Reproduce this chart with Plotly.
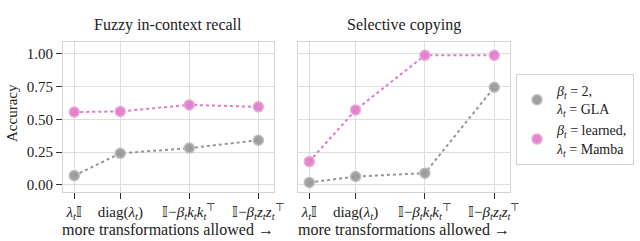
import plotly.graph_objects as go
from plotly.subplots import make_subplots

# Data
x_pos = [0, 2, 5, 8]
tick_labels = [
    "<i>λ<sub>t</sub></i>𝕀",
    "diag(<i>λ<sub>t</sub></i>)",
    "𝕀−<i>β<sub>t</sub>k<sub>t</sub>k<sub>t</sub></i><sup>⊤</sup>",
    "𝕀−<i>β<sub>t</sub>z<sub>t</sub>z<sub>t</sub></i><sup>⊤</sup>",
]
panel_titles = ["Fuzzy in-context recall", "Selective copying"]
gla_recall = [0.07, 0.24, 0.28, 0.34]
mamba_recall = [0.555, 0.56, 0.61, 0.595]
gla_copy = [0.018, 0.063, 0.089, 0.745]
mamba_copy = [0.177, 0.571, 0.988, 0.988]
series_names = ["<i>β<sub>t</sub></i> = 2,<br><i>λ<sub>t</sub></i> = GLA",
                "<i>β<sub>t</sub></i> = learned,<br><i>λ<sub>t</sub></i> = Mamba"]
y_ticks = [0, 0.25, 0.5, 0.75, 1.0]
y_tick_text = ["0.00", "0.25", "0.50", "0.75", "1.00"]

FONT = "Liberation Serif"
TXT = "#222"
gray_fill = "rgba(150,150,150,0.9)"
gray_edge = "rgba(190,190,190,1)"
pink_fill = "rgba(224,122,200,0.9)"
pink_edge = "rgba(236,170,220,1)"
styles = [
    dict(line="rgb(150,150,150)", fill=gray_fill, edge=gray_edge),
    dict(line="rgb(226,120,198)", fill=pink_fill, edge=pink_edge),
]

fig = make_subplots(rows=1, cols=2, shared_yaxes=True)

panels = [(gla_recall, mamba_recall), (gla_copy, mamba_copy)]
for i, series in enumerate(panels):
    col = i + 1
    for s, vals in enumerate(series):
        st = styles[s]
        fig.add_trace(go.Scatter(
            x=x_pos, y=vals, mode="lines+markers", showlegend=False,
            line=dict(color=st["line"], width=2, dash="dot"),
            marker=dict(size=10, color=st["fill"], line=dict(color=st["edge"], width=1.5)),
        ), row=1, col=col)

# legend-only marker entries
for s in range(2):
    st = styles[s]
    fig.add_trace(go.Scatter(
        x=[None], y=[None], mode="markers", name=series_names[s],
        marker=dict(size=10, color=st["fill"], line=dict(color=st["edge"], width=1.5)),
    ), row=1, col=2)

W, H = 640, 241
dom_x = [[63 / W, 274 / W], [298 / W, 510 / W]]
dom_y = [1 - 192 / H, 1 - 42 / H]

axis_common = dict(
    showgrid=True, gridcolor="#dedede", gridwidth=1,
    showline=True, linecolor="#d4d4d4", linewidth=1.2, mirror=True,
    zeroline=False, automargin=False,
    tickfont=dict(family=FONT, size=15, color=TXT),
)

for i in range(2):
    xa = "xaxis" if i == 0 else "xaxis2"
    fig.layout[xa].update(
        domain=dom_x[i], range=[-0.49, 8.68],
        tickmode="array", tickvals=x_pos, ticktext=tick_labels,
        ticks="outside", ticklen=6, tickcolor="#333", tickwidth=1.2,
        **axis_common,
    )
    fig.add_annotation(
        text="more transformations allowed →", xref="paper", yref="paper",
        x=(dom_x[i][0] + dom_x[i][1]) / 2, y=1 - 229 / H,
        xanchor="center", yanchor="middle", showarrow=False,
        font=dict(family=FONT, size=16, color=TXT),
    )
    fig.add_annotation(
        text=panel_titles[i], xref="paper", yref="paper",
        x=(dom_x[i][0] + dom_x[i][1]) / 2, y=1 - 25 / H,
        xanchor="center", yanchor="middle", showarrow=False,
        font=dict(family=FONT, size=16, color=TXT),
    )

fig.layout.yaxis.update(
    domain=dom_y, range=[-0.055, 1.09],
    tickvals=y_ticks, ticktext=y_tick_text,
    ticks="outside", ticklen=6, tickcolor="#333", tickwidth=1.2,
    **axis_common,
)
fig.layout.yaxis2.update(
    domain=dom_y, range=[-0.055, 1.09],
    tickvals=y_ticks, showticklabels=False, ticks="",
    **axis_common,
)
fig.add_annotation(
    text="Accuracy", xref="paper", yref="paper",
    x=12 / W, y=1 - 113 / H, textangle=-90,
    xanchor="center", yanchor="middle", showarrow=False,
    font=dict(family=FONT, size=15, color=TXT),
)

fig.update_layout(
    width=W, height=H,
    margin=dict(l=0, r=0, t=0, b=0),
    paper_bgcolor="white", plot_bgcolor="white",
    font=dict(family=FONT, size=14, color=TXT),
    legend=dict(
        x=516 / W, y=1 - 74 / H, xanchor="left", yanchor="top",
        bordercolor="#d0d0d0", borderwidth=1, bgcolor="white",
        font=dict(family=FONT, size=14, color=TXT),
        itemwidth=30,
    ),
)

fig.write_html("out.html", config={"displayModeBar": False},
               post_script="document.body.style.margin='0';document.body.style.padding='0';")
